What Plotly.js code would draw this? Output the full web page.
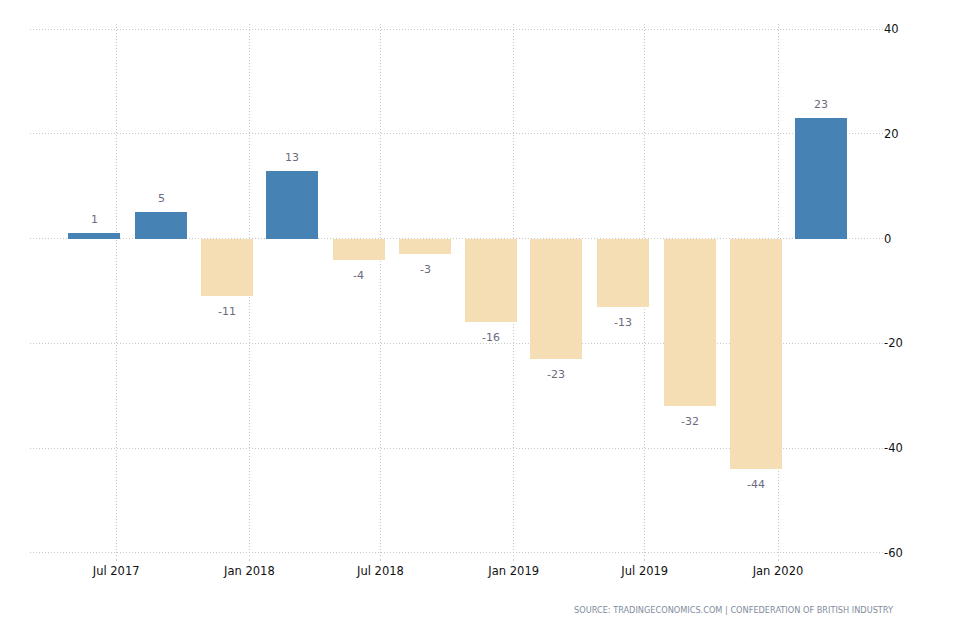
<!DOCTYPE html>
<html>
<head>
<meta charset="utf-8">
<script src="https://cdn.plot.ly/plotly-3.0.1.min.js"></script>
<style>html,body{margin:0;padding:0;background:#fff;}#chart{width:954px;height:636px;}</style>
</head>
<body>
<div id="chart"></div>
<script>
const dates = ['2017-06-01','2017-09-01','2017-12-01','2018-03-01','2018-06-01','2018-09-01','2018-12-01','2019-03-01','2019-06-01','2019-09-01','2019-12-01','2020-03-01'];
const values = [1, 5, -11, 13, -4, -3, -16, -23, -13, -32, -44, 23];
const tickDates = ['2017-07-01','2018-01-01','2018-07-01','2019-01-01','2019-07-01','2020-01-01'];
const tickLabels = ['Jul 2017','Jan 2018','Jul 2018','Jan 2019','Jul 2019','Jan 2020'];
const yTickValues = [-60, -40, -20, 0, 20, 40];
const yTickLabels = ['-60', '-40', '-20', '0', '20', '40'];
const sourceText = 'SOURCE: TRADINGECONOMICS.COM | CONFEDERATION OF BRITISH INDUSTRY';

const colors = values.map(v => v >= 0 ? '#4682B4' : '#F5DEB3');
const barWidthMs = 71.8 * 86400000;

const trace = {
  type: 'bar',
  x: dates,
  y: values,
  width: dates.map(() => barWidthMs),
  marker: {color: colors, line: {width: 0}},
  hoverinfo: 'x+y'
};

const labelAnns = dates.map((d, i) => ({
  x: d, y: values[i], xref: 'x', yref: 'y',
  text: String(values[i]), showarrow: false,
  yanchor: values[i] >= 0 ? 'bottom' : 'top',
  yshift: values[i] >= 0 ? 5 : -7,
  font: {family: 'DejaVu Sans, sans-serif', size: 11, color: '#6b6b80'}
}));

labelAnns.push({
  xref: 'paper', yref: 'paper', x: 1.015, y: -0.098,
  xanchor: 'right', yanchor: 'middle', showarrow: false,
  text: sourceText,
  font: {family: 'DejaVu Sans, sans-serif', size: 8.2, color: '#7f8c9d'}
});

const layout = {
  width: 954, height: 636,
  margin: {l: 30, r: 71, t: 24, b: 78},
  paper_bgcolor: '#fff', plot_bgcolor: '#fff',
  showlegend: false,
  bargap: 0,
  xaxis: {
    type: 'date',
    range: ['2017-03-04', '2020-05-25'],
    tickvals: tickDates, ticktext: tickLabels,
    ticks: 'outside', ticklen: 2, tickcolor: '#cccccc', tickwidth: 1,
    showgrid: true, gridcolor: '#c8c8c8', griddash: '1px,2px', gridwidth: 1,
    showline: false, zeroline: false,
    tickfont: {family: 'DejaVu Sans, sans-serif', size: 11.5, color: '#111111'}
  },
  yaxis: {
    side: 'right',
    range: [-61, 41],
    tickvals: yTickValues, ticktext: yTickLabels,
    ticks: '', showline: false, zeroline: false,
    showgrid: true, gridcolor: '#c8c8c8', griddash: '1px,2px', gridwidth: 1,
    tickfont: {family: 'DejaVu Sans, sans-serif', size: 11.5, color: '#111111'}
  },
  annotations: labelAnns
};

Plotly.newPlot('chart', [trace], layout, {displayModeBar: false, staticPlot: true});
</script>
</body>
</html>
